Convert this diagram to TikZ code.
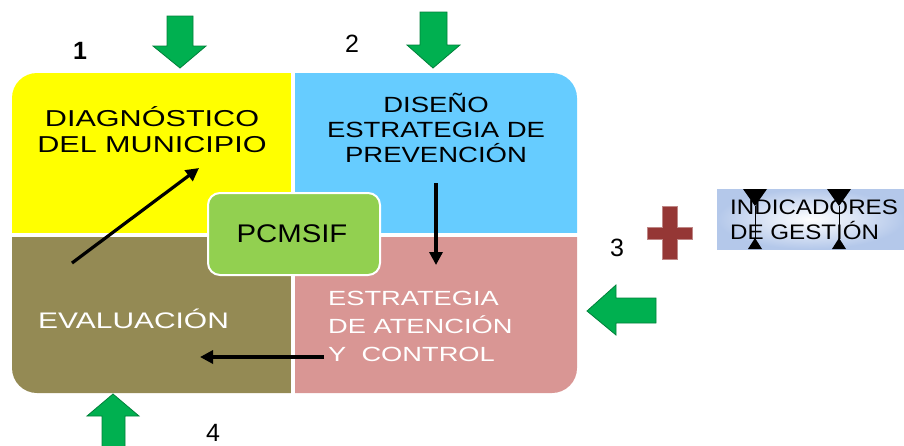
\documentclass[tikz,border=0pt]{standalone}
\usepackage{fontspec}
\setmainfont{Liberation Sans}
\newfontfamily\stretchfont[FakeStretch=1.33]{Liberation Sans}
\newfontfamily\stretchfontb[FakeStretch=1.25]{Liberation Sans}
\newfontfamily\stretchfontc[FakeStretch=1.15]{Liberation Sans}
\usetikzlibrary{arrows.meta}
\definecolor{quadyellow}{HTML}{FFFF00}
\definecolor{quadblue}{HTML}{66CCFF}
\definecolor{quadolive}{HTML}{948A54}
\definecolor{quadpink}{HTML}{D99694}
\definecolor{boxgreen}{HTML}{92D050}
\definecolor{arrowgreen}{HTML}{00B050}
\definecolor{arrowedge}{HTML}{00803A}
\definecolor{crossred}{HTML}{953735}
\definecolor{indblue}{HTML}{B4C8EA}

\begin{document}
\begin{tikzpicture}[x=1pt, y=-1pt,
	bigarrow/.style={fill=arrowgreen, draw=arrowedge, line width=0.8pt},
	flowarrow/.style={line width=3.2pt, -{Triangle[length=13pt,width=13pt]}},
	number/.style={anchor=base, font=\fontsize{25}{28}\selectfont}]
		%%%%% START %%%%%
		\useasboundingbox (0,0) rectangle (904,445);
		
		% four fields of the cycle
		\begin{scope}
			\clip[rounded corners=25] (300,73) -- (577,73) -- (577,393) -- (12,393) -- (12,73) -- cycle;
			\fill[quadyellow] (0,60) rectangle (291,233);
			\fill[quadblue] (295,60) rectangle (590,233);
			\fill[quadolive] (0,237) rectangle (291,405);
			\fill[quadpink] (295,237) rectangle (590,405);
		\end{scope}
		
		\node[anchor=north, inner sep=0, align=center, font=\stretchfont\fontsize{23}{26}\selectfont] (diag) at (152,106) {DIAGNÓSTICO\\DEL MUNICIPIO};
		\node[anchor=north, inner sep=0, align=center, font=\stretchfontb\fontsize{22}{25}\selectfont] (diseno) at (436,93) {DISEÑO\\ESTRATEGIA DE\\PREVENCIÓN};
		\node[anchor=north west, inner sep=0, align=left, text=white, font=\stretchfont\fontsize{20.5}{28}\selectfont] (atencion) at (328,291) {ESTRATEGIA\\DE ATENCIÓN\\Y\ \ CONTROL};
		\node[anchor=base west, inner sep=0, text=white, font=\stretchfont\fontsize{22.5}{26}\selectfont] (evalua) at (38,328) {EVALUACIÓN};
		
		% centre box
		\draw[fill=boxgreen, draw=white, line width=2pt, rounded corners=12] (208,193) rectangle (380,275);
		\node[anchor=base, inner sep=0, font=\stretchfontc\fontsize{25.5}{28}\selectfont] (pcmsif) at (292,242) {PCMSIF};
		
		% black arrows inside the cycle
		\coordinate (diagtail) at (72,263);
		\coordinate (diaghead) at (199,168);
		\coordinate (disenotail) at (436,183);
		\coordinate (disenohead) at (436,265);
		\coordinate (atenciontail) at (324,357);
		\coordinate (atencionhead) at (200,357);
		\draw[flowarrow] (diagtail) -- (diaghead);
		\draw[flowarrow] (disenotail) -- (disenohead);
		\draw[flowarrow] (atenciontail) -- (atencionhead);
		
		% green block arrows
		\draw[bigarrow] (167,16) -- (193,16) -- (193,46) -- (206,46) -- (180,68) -- (153,46) -- (167,46) -- cycle;
		\draw[bigarrow] (420,12) -- (447,12) -- (447,45) -- (460,45) -- (433,68) -- (407,45) -- (420,45) -- cycle;
		\draw[bigarrow] (656,298) -- (656,323) -- (616,323) -- (616,335) -- (587,311) -- (616,285) -- (616,298) -- cycle;
		\draw[bigarrow] (102,460) -- (102,416) -- (87,416) -- (113,394) -- (139,416) -- (125,416) -- (125,460);
		
		% numbers
		\node[number, font=\bfseries\fontsize{25}{28}\selectfont] (num1) at (80,59) {1};
		\node[number] (num2) at (352,52) {2};
		\node[number] (num3) at (617,256) {3};
		\node[number] (num4) at (213,441) {4};
		
		% plus sign and indicators
		\fill[crossred, draw=crossred!60!white, line width=0.6pt] (662,206) -- (677,206) -- (677,227) -- (692,227) -- (692,239) -- (677,239) -- (677,259) -- (662,259) -- (662,239) -- (647,239) -- (647,227) -- (662,227) -- cycle;
		\shade[inner color=white, outer color=indblue] (717,189) rectangle (904,249);
		\foreach \hx in {755,839} {
			\fill (\hx-12,189) -- (\hx+12,189) -- (\hx,206) -- cycle;
			\draw[line width=0.6pt] (\hx,206) -- (\hx,240);
			\fill (\hx-7,249) -- (\hx+7,249) -- (\hx,238) -- cycle;
		}
		\node[anchor=north west, inner sep=0, align=left, font=\stretchfontc\fontsize{21}{25}\selectfont] (indic) at (730,200) {INDICADORES\\DE GESTIÓN};
		
		%%%%% END %%%%%
	\end{tikzpicture}
\end{document}
